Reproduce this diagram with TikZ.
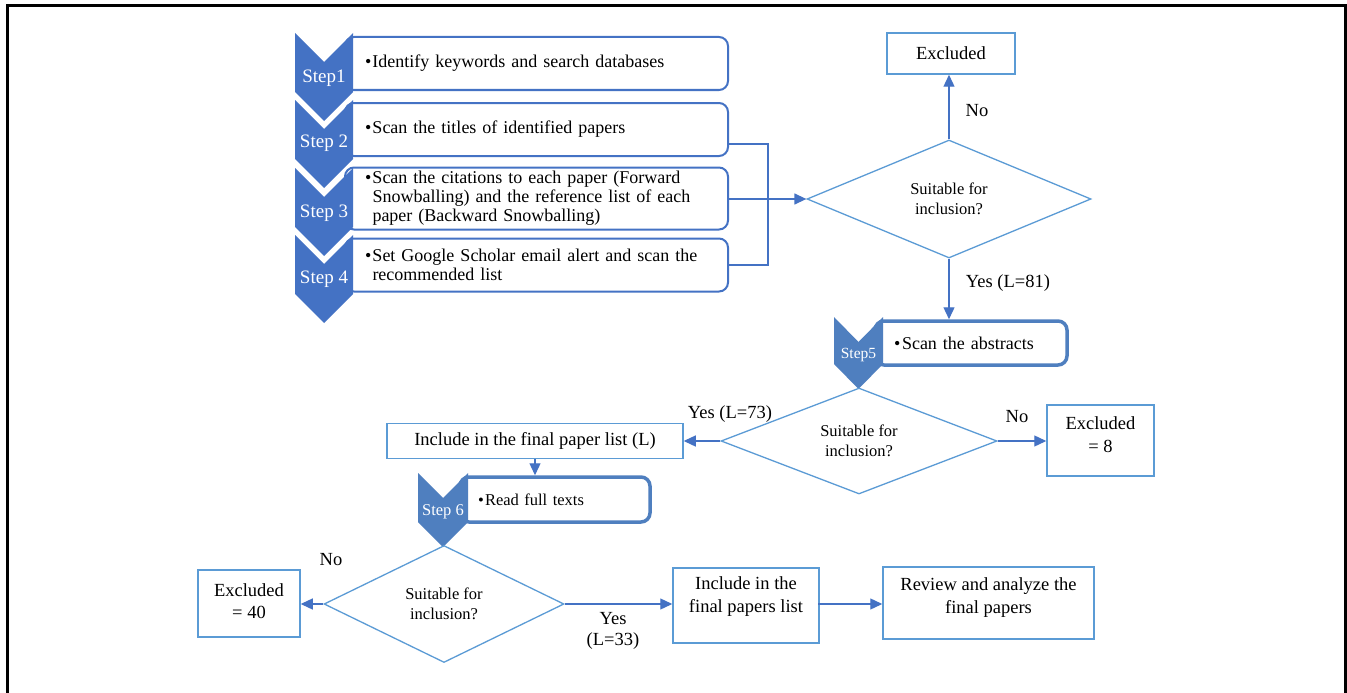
\documentclass[tikz,border=0pt]{standalone}
\usepackage{fontspec}
\setmainfont{Liberation Serif}
\usetikzlibrary{shapes.geometric,arrows.meta,calc}
\definecolor{cdark}{HTML}{4472C4}
\definecolor{cmid}{HTML}{4F7FBF}
\definecolor{clight}{HTML}{5B9BD5}
\newcommand{\fs}[2]{\fontsize{#1}{#2}\selectfont}
% bullet width, text width, text
\newcommand{\bul}[3]{\makebox[#1][l]{\textbullet}\parbox[t]{#2}{\raggedright #3}}
% x, y, w, h, d, colour
\newcommand{\chevpath}[6]{%
  \fill[#6] (#1,#2) -- ({#1+#3/2},{#2+#5}) -- ({#1+#3},#2) -- ({#1+#3},{#2+#4-#5})
    -- ({#1+#3/2},{#2+#4}) -- (#1,{#2+#4-#5}) -- cycle;}
\tikzset{
  stepbox/.style={draw=cdark, line width=2pt, rounded corners=9pt, fill=white,
    inner xsep=20pt, inner ysep=1pt, text width=343pt, minimum width=383pt,
    align=left, font=\fs{18}{19}},
  smallbox/.style={draw=cmid, line width=3.5pt, rounded corners=9pt, fill=white,
    inner ysep=1pt, align=left},
  steplbl/.style={text=white, inner sep=0pt},
  pbox/.style={draw=clight, line width=1.5pt, inner sep=0pt},
  btxt/.style={align=center, inner sep=0pt, font=\fs{18.5}{22.5}},
  dia/.style={draw=clight, line width=1.3pt, diamond, aspect=2.4, inner sep=0pt,
    align=center, font=\fs{16.5}{20}},
  lbl/.style={inner sep=0pt, align=center, font=\fs{18.5}{21}},
  conn/.style={draw=cdark, line width=1.3pt},
  arr/.style={draw=cdark, line width=1.3pt, -{Triangle[length=12pt,width=11pt]}},
}
\begin{document}
\begin{tikzpicture}[x=1pt,y=-1pt]
\useasboundingbox (0,0) rectangle (1347,693);
\fill[white] (0,0) rectangle (1347,693);
\draw[black, line width=3pt] (7.5,693) -- (7.5,6) -- (1345,6) -- (1345,693);

% step boxes 1-4
\node[stepbox, minimum height=53pt] (b1) at (536.5,63.5) {\bul{7.5pt}{335pt}{Identify keywords and search databases}};
\node[stepbox, minimum height=53pt] (b2) at (536.5,129.5) {\bul{7.5pt}{335pt}{Scan the titles of identified papers}};
\node[stepbox, minimum height=62pt] (b3) at (536.5,198.5) {\bul{7.5pt}{335pt}{Scan the citations to each paper (Forward Snowballing) and the reference list of each paper (Backward Snowballing)}};
\node[stepbox, minimum height=53pt] (b4) at (536.5,265) {\bul{7.5pt}{335pt}{Set Google Scholar email alert and scan the recommended list}};

% chevrons 1-4
\chevpath{295}{33}{58}{88}{29}{cdark}
\chevpath{295}{100}{58}{88}{29}{cdark}
\chevpath{295}{168}{58}{88}{29}{cdark}
\chevpath{295}{235}{58}{88}{29}{cdark}
\node[steplbl, font=\fs{19}{19}] (s1) at (324,78) {Step1};
\node[steplbl, font=\fs{19}{19}] (s2) at (324,143) {Step 2};
\node[steplbl, font=\fs{19}{19}] (s3) at (324,213) {Step 3};
\node[steplbl, font=\fs{19}{19}] (s4) at (324,279) {Step 4};

% decision 1
\node[dia, minimum width=284pt, minimum height=118pt] (d1) at (949,199) {Suitable for\\inclusion?};
\node[pbox, minimum width=128pt, minimum height=41pt, font=\fs{18.5}{22.5}] (ex1) at (951,53.5) {Excluded};

\coordinate (j2) at (768,144);
\coordinate (j4) at (768,265);
\draw[conn] ([yshift=-14.5pt]b2.east) -- (j2) -- (j4) -- (b4.east);
\draw[arr] (b3.east |- d1.west) -- (d1.west);
\draw[arr] (d1.north) -- (d1.north |- ex1.south);
\node[lbl] (no1) at (977,111) {No};

% step 5
\node[smallbox, minimum width=192pt, minimum height=44pt, inner xsep=19pt, text width=154pt, font=\fs{18}{19}] (b5) at (971,343) {\bul{8pt}{146pt}{Scan the abstracts}};
\chevpath{834}{317}{49}{72}{25}{cmid}
\node[steplbl, font=\fs{15.5}{16}] (s5) at (858.5,355) {Step5};
\draw[arr] (d1.south) -- (d1.south |- b5.north);
\node[lbl] (y81) at (1008,283) {Yes (L=81)};

% decision 2
\node[dia, minimum width=276pt, minimum height=106pt] (d2) at (859,441) {Suitable for\\inclusion?};
\node[pbox, minimum width=296pt, minimum height=35pt, font=\fs{18.5}{22.5}] (inc1) at (535,441) {Include in the final paper list (L)};
\node[pbox, minimum width=107pt, minimum height=71pt] (ex8) at (1100.5,440.5) {};
\node[btxt] (ex8t) at ($(ex8.center)+(0,-6)$) {Excluded\\= 8};
\draw[arr] (d2.west) -- (d2.west -| inc1.east);
\draw[arr] (d2.east) -- (d2.east -| ex8.west);
\node[lbl] (y73) at (730,414) {Yes (L=73)};
\node[lbl] (no2) at (1017,417) {No};

% step 6
\node[smallbox, minimum width=190pt, minimum height=45pt, inner xsep=18pt, text width=154pt, font=\fs{16.5}{18}] (b6) at (555,499.5) {\bul{7pt}{147pt}{Read full texts}};
\chevpath{418}{473}{50}{74}{25}{cmid}
\node[steplbl, font=\fs{16.5}{17}] (s6) at (443,512) {Step 6};
\draw[arr] (inc1.south) -- (inc1.south |- b6.north);

% decision 3
\node[dia, minimum width=240pt, minimum height=117pt] (d3) at (444,604) {Suitable for\\inclusion?};
\node[pbox, minimum width=102pt, minimum height=67pt] (ex40) at (249,603.5) {};
\node[btxt] (ex40t) at ($(ex40.center)+(0,-2.5)$) {Excluded\\= 40};
\node[pbox, minimum width=146pt, minimum height=75pt] (inc2) at (746,605.5) {};
\node[btxt] (inc2t) at ($(inc2.center)+(0,-9)$) {Include in the\\final papers list};
\node[pbox, minimum width=211pt, minimum height=72pt] (rev) at (988.5,603) {};
\node[btxt] (revt) at ($(rev.center)+(0,-5.5)$) {Review and analyze the\\final papers};
\draw[arr] (d3.west) -- (d3.west -| ex40.east);
\draw[arr] (d3.east) -- (d3.east -| inc2.west);
\draw[arr] (inc2.west |- d3.east) ++(146pt,0) coordinate (inc2r) -- (inc2r -| rev.west);
\node[lbl] (no3) at (331,560) {No};
\node[lbl] (y33) at (613,630.5) {Yes\\(L=33)};
\end{tikzpicture}
\end{document}
